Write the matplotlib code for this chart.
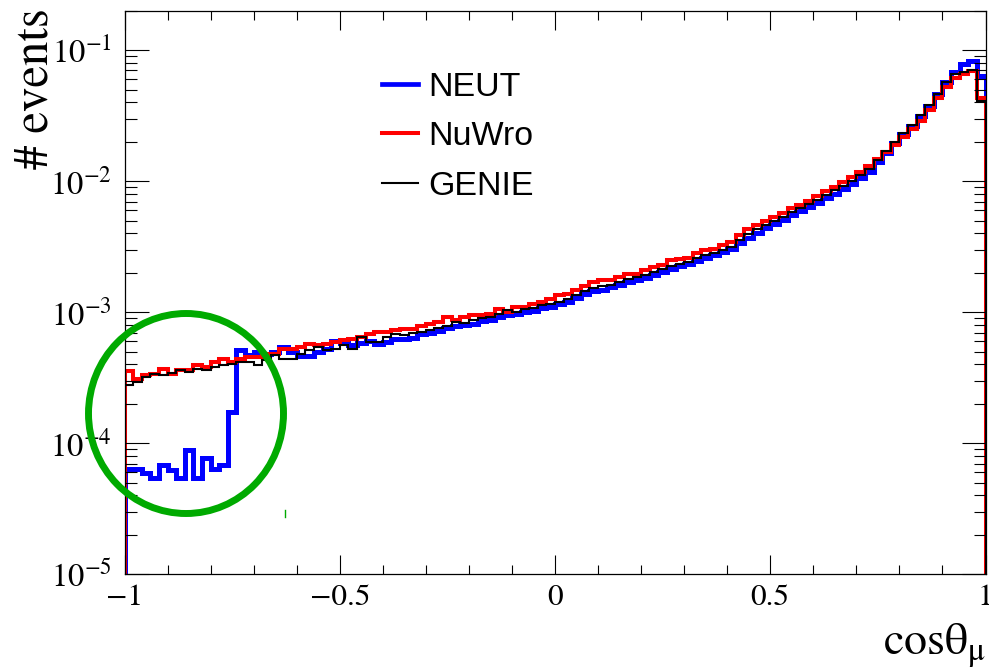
import numpy as np
import matplotlib.pyplot as plt
from matplotlib.lines import Line2D
from matplotlib.patches import Ellipse
from matplotlib.ticker import LogLocator, NullFormatter, MultipleLocator

plt.rcParams['mathtext.fontset'] = 'stix'
plt.rcParams['font.family'] = 'STIXGeneral'

# 100 bins in cos(theta_mu) from -1 to 1, values in units of 1e-3
neut = [0.064, 0.064, 0.059, 0.054, 0.068, 0.062, 0.054, 0.089, 0.054, 0.077,
        0.064, 0.068, 0.173, 0.513, 0.470, 0.500, 0.480, 0.500, 0.543, 0.500,
        0.460, 0.460, 0.500, 0.520, 0.600, 0.580, 0.560, 0.580, 0.600, 0.577,
        0.590, 0.620, 0.630, 0.640, 0.680, 0.700, 0.720, 0.760, 0.780, 0.800,
        0.820, 0.850, 0.870, 0.920, 0.950, 0.970, 1.000, 1.030, 1.080, 1.100,
        1.150, 1.200, 1.280, 1.370, 1.440, 1.480, 1.550, 1.620, 1.700, 1.760,
        1.840, 1.920, 2.020, 2.120, 2.240, 2.320, 2.460, 2.600, 2.720, 2.860,
        3.020, 3.350, 3.700, 4.050, 4.400, 4.750, 5.100, 5.500, 5.900, 6.350,
        6.850, 7.400, 8.000, 8.700, 9.600, 10.60, 11.80, 14.00, 16.50, 19.50,
        23.00, 26.50, 31.50, 37.50, 46.50, 57.00, 68.00, 79.00, 83.00, 63.00]

nuwro = [0.356, 0.312, 0.330, 0.335, 0.371, 0.340, 0.361, 0.365, 0.394, 0.383,
         0.418, 0.436, 0.418, 0.443, 0.456, 0.456, 0.484, 0.484, 0.528, 0.528,
         0.545, 0.577, 0.559, 0.577, 0.594, 0.611, 0.630, 0.647, 0.688, 0.708,
         0.708, 0.729, 0.740, 0.750, 0.780, 0.818, 0.843, 0.920, 0.868, 0.920,
         0.948, 0.948, 0.977, 1.067, 1.007, 1.097, 1.097, 1.160, 1.200, 1.270,
         1.350, 1.390, 1.480, 1.580, 1.700, 1.750, 1.750, 1.860, 1.970, 1.970,
         2.090, 2.220, 2.290, 2.490, 2.570, 2.600, 2.810, 2.970, 3.060, 3.240,
         3.440, 3.900, 4.300, 4.650, 5.000, 5.350, 5.750, 6.200, 6.600, 7.100,
         7.700, 8.400, 9.000, 9.800, 10.70, 11.70, 13.00, 14.80, 16.80, 19.00,
         21.80, 25.00, 29.00, 35.00, 43.00, 52.50, 61.00, 66.00, 69.50, 43.00]

genie = [0.277, 0.294, 0.321, 0.340, 0.330, 0.345, 0.360, 0.350, 0.370, 0.365,
         0.380, 0.395, 0.405, 0.418, 0.418, 0.394, 0.430, 0.470, 0.443, 0.443,
         0.484, 0.513, 0.543, 0.513, 0.525, 0.559, 0.520, 0.647, 0.594, 0.594,
         0.647, 0.688, 0.675, 0.690, 0.708, 0.730, 0.760, 0.790, 0.843, 0.830,
         0.868, 0.900, 0.920, 0.977, 1.035, 1.007, 1.067, 1.080, 1.130, 1.160,
         1.200, 1.270, 1.360, 1.450, 1.520, 1.580, 1.620, 1.700, 1.780, 1.850,
         1.920, 2.020, 2.120, 2.250, 2.350, 2.420, 2.580, 2.720, 2.840, 2.980,
         3.150, 3.550, 3.950, 4.300, 4.650, 5.000, 5.350, 5.800, 6.200, 6.700,
         7.200, 7.850, 8.500, 9.200, 10.10, 11.20, 12.50, 14.50, 17.00, 20.00,
         23.50, 26.80, 32.00, 38.00, 46.50, 57.00, 66.00, 68.00, 71.00, 41.00]

labels = ['NEUT', 'NuWro', 'GENIE']
colors = ['#0000ff', '#ff0000', '#000000']
widths = [3.6, 2.9, 1.5]
xtick_pos = [-1, -0.5, 0, 0.5, 1]
xtick_labels = ['\u22121', '\u22120.5', '0', '0.5', '1']

edges = np.linspace(-1, 1, len(neut) + 1)

fig = plt.figure(figsize=(9.89, 6.71), dpi=100)
ax = fig.add_axes([0.1259, 0.1441, 0.8706, 0.8399])

for vals, c, lw in zip([neut, nuwro, genie], colors, widths):
    ax.stairs(np.array(vals) * 1e-3, edges, baseline=1e-7, color=c, lw=lw,
              joinstyle='miter')

ax.set_xlim(-1, 1)
ax.set_yscale('log')
ax.set_ylim(1e-5, 0.2)
ax.set_xticks(xtick_pos, xtick_labels)
ax.xaxis.set_minor_locator(MultipleLocator(0.1))
ax.yaxis.set_major_locator(LogLocator(base=10, numticks=10))
ax.yaxis.set_minor_locator(LogLocator(base=10, subs=range(2, 10), numticks=20))
ax.yaxis.set_minor_formatter(NullFormatter())

ax.tick_params(which='both', direction='in', top=True, right=True, width=0.8)
ax.tick_params(axis='x', which='major', length=13.7, labelsize=22.5, pad=7)
ax.tick_params(axis='x', which='minor', length=6.5)
ax.tick_params(axis='y', which='major', length=17, labelsize=23.5, pad=9)
ax.tick_params(axis='y', which='minor', length=8.6)
for s in ax.spines.values():
    s.set_linewidth(0.9)

handles = [Line2D([], [], color=c, lw=lw) for c, lw in zip(colors, [3.4, 2.9, 1.5])]
ax.legend(handles, labels, loc='upper left', bbox_to_anchor=(0.299, 0.892),
          frameon=False, prop={'family': 'Liberation Sans', 'size': 24.5},
          handlelength=1.05, handletextpad=0.3, labelspacing=0.55,
          borderpad=0, borderaxespad=0)

fig.text(0.036, 0.987, '# events', rotation=90, ha='center', va='top', fontsize=35)
fig.text(0.997, 0.026, r'cos$\mathrm{\theta}_{\mathrm{\mu}}$', ha='right',
         va='baseline', fontsize=33)

# green circle highlighting the low-angle region
fig.add_artist(Ellipse((186 / 989, 1 - 413.5 / 671), 195 / 989, 200 / 671,
                       transform=fig.transFigure, fill=False, ec='#00aa00', lw=5))
fig.add_artist(Line2D([285 / 989, 285 / 989], [1 - 510 / 671, 1 - 517 / 671],
                      color='#00aa00', lw=1, transform=fig.transFigure))

fig.savefig('out.png', dpi=100)
